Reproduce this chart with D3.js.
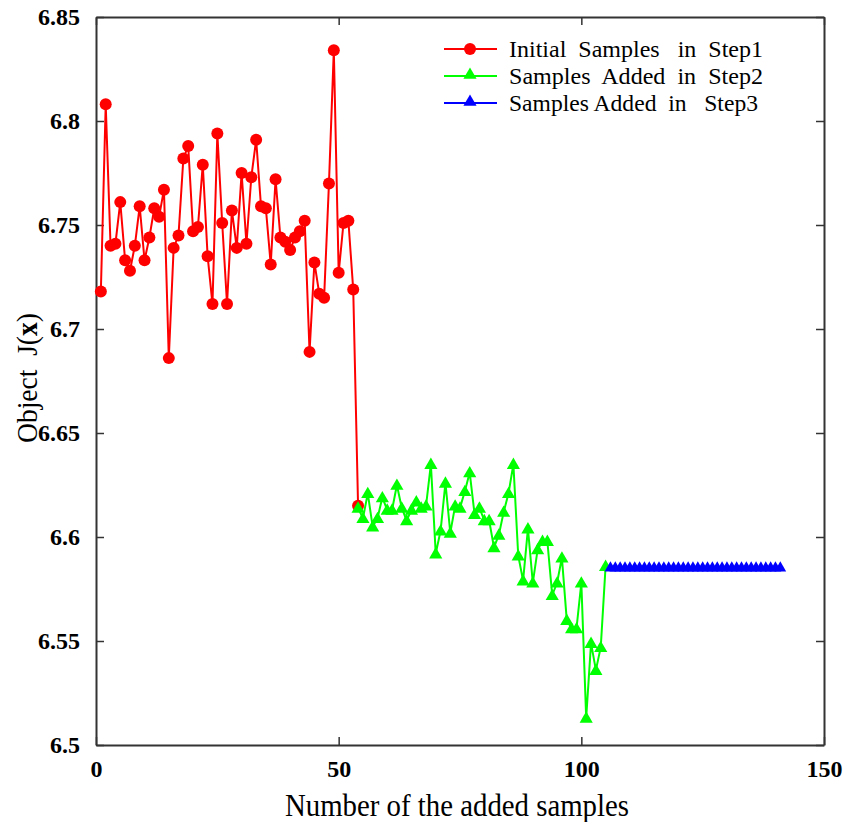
<!DOCTYPE html>
<html>
<head>
<meta charset="utf-8">
<script src="https://cdn.jsdelivr.net/npm/d3@7"></script>
<style>
  body { margin: 0; background: #fff; }
  text { font-family: "Liberation Serif", "Times New Roman", serif; }
</style>
</head>
<body>
<svg id="chart" width="844" height="822"></svg>
<script>
// data
var step1X = [1,2,3,4,5,6,7,8,9,10,11,12,13,14,15,16,17,18,19,20,21,22,23,24,25,26,27,
  28,29,30,31,32,33,34,35,36,37,38,39,40,41,42,43,44,45,46,47,48,49,50,51,52,53,54];
var step1Y = [6.718,6.808,6.740,6.741,6.761,6.733,6.728,6.740,6.759,6.733,6.744,6.758,6.754,6.767,
  6.686,6.739,6.745,6.782,6.788,6.747,6.749,6.779,6.735,6.712,6.794,6.751,6.712,6.757,6.739,6.775,
  6.741,6.773,6.791,6.759,6.758,6.731,6.772,6.744,6.742,6.738,6.744,6.747,6.752,6.689,6.732,6.717,
  6.715,6.770,6.834,6.727,6.751,6.752,6.719,6.615];

var step2X = [54,55,56,57,58,59,60,61,62,63,64,65,66,67,68,69,70,71,72,73,74,75,76,77,78,79,
  80,81,82,83,84,85,86,87,88,89,90,91,92,93,94,95,96,97,98,99,100,101,102,103,104,105];
var step2Y = [6.614,6.609,6.621,6.605,6.609,6.619,6.613,6.613,6.625,6.614,6.608,6.613,6.617,6.614,
  6.615,6.635,6.592,6.603,6.626,6.602,6.615,6.614,6.622,6.631,6.611,6.614,6.608,6.608,6.595,6.601,
  6.612,6.621,6.635,6.591,6.579,6.604,6.578,6.594,6.598,6.598,6.572,6.578,6.590,6.560,6.556,6.556,
  6.578,6.513,6.549,6.536,6.547,6.586];

var step3X = [106,107,108,109,110,111,112,113,114,115,116,117,118,119,120,121,122,123,
  124,125,126,127,128,129,130,131,132,133,134,135,136,137,138,139,140,141];
var step3Y = [6.5855,6.5855,6.5855,6.5855,6.5855,6.5855,6.5855,6.5855,6.5855,6.5855,6.5855,6.5855,
  6.5855,6.5855,6.5855,6.5855,6.5855,6.5855,6.5855,6.5855,6.5855,6.5855,6.5855,6.5855,6.5855,6.5855,
  6.5855,6.5855,6.5855,6.5855,6.5855,6.5855,6.5855,6.5855,6.5855,6.5855];

var xTicks = [0, 50, 100, 150];
var yTicks = [6.5, 6.55, 6.6, 6.65, 6.7, 6.75, 6.8, 6.85];
var legendLabels = ["Initial  Samples   in  Step1", "Samples  Added  in  Step2", "Samples Added  in   Step3"];

var svg = d3.select("#chart");
var plotLeft = 96, plotRight = 824, plotTop = 17, plotBottom = 745;

var x = d3.scaleLinear().domain([0, 150]).range([plotLeft, plotRight]);
var y = d3.scaleLinear().domain([6.5, 6.85]).range([plotBottom, plotTop]);

var frameColor = "#333";

//axes with ticks pointing inwards
function styleAxis(g) {
  g.select(".domain").attr("stroke", frameColor).attr("stroke-width", 2);
  g.selectAll(".tick line").attr("stroke", frameColor).attr("stroke-width", 1.5);
  g.selectAll(".tick text").attr("fill", "#000").attr("font-weight", "bold")
    .attr("font-size", 24).style("font-family", "'Liberation Serif', serif");
}

svg.append("g").attr("transform", "translate(0," + plotBottom + ")")
  .call(d3.axisBottom(x).tickValues(xTicks).tickSizeInner(-8).tickSizeOuter(0).tickPadding(15)
    .tickFormat(d3.format("d")))
  .call(styleAxis);

svg.append("g").attr("transform", "translate(" + plotLeft + ",0)")
  .call(d3.axisLeft(y).tickValues(yTicks).tickSizeInner(-8).tickSizeOuter(0).tickPadding(16)
    .tickFormat(function(d) { return String(+d.toFixed(2)); }))
  .call(styleAxis);

svg.append("g").attr("transform", "translate(0," + plotTop + ")")
  .call(d3.axisTop(x).tickValues(xTicks).tickSizeInner(-8).tickSizeOuter(0).tickFormat(""))
  .call(styleAxis);

svg.append("g").attr("transform", "translate(" + plotRight + ",0)")
  .call(d3.axisRight(y).tickValues(yTicks).tickSizeInner(-8).tickSizeOuter(0).tickFormat(""))
  .call(styleAxis);

// axis titles
svg.append("text")
  .attr("x", 285).attr("y", 816)
  .attr("font-size", 31)
  .attr("textLength", 344).attr("lengthAdjust", "spacingAndGlyphs")
  .text("Number of the added samples");

var yTitle = svg.append("text")
  .attr("transform", "translate(37,443) rotate(-90)")
  .attr("font-size", 29).style("white-space", "pre")
  .attr("textLength", 130).attr("lengthAdjust", "spacingAndGlyphs");
yTitle.append("tspan").text("Object  J(");
yTitle.append("tspan").attr("font-weight", "bold").text("x");
yTitle.append("tspan").text(")");

var line = d3.line().x(function(d) { return x(d[0]); }).y(function(d) { return y(d[1]); });
var tri = d3.symbol().type(d3.symbolTriangle);

function drawSeries(xs, ys, color, marker, size) {
  var pts = xs.map(function(v, i) { return [v, ys[i]]; });
  svg.append("path").datum(pts)
    .attr("fill", "none").attr("stroke", color).attr("stroke-width", 2)
    .attr("d", line);
  var g = svg.append("g");
  if (marker === "circle") {
    g.selectAll("circle").data(pts).enter().append("circle")
      .attr("cx", function(d) { return x(d[0]); })
      .attr("cy", function(d) { return y(d[1]); })
      .attr("r", size).attr("fill", color);
  } else {
    g.selectAll("path").data(pts).enter().append("path")
      .attr("d", tri.size(size))
      .attr("transform", function(d) { return "translate(" + x(d[0]) + "," + (y(d[1]) + 1) + ")"; })
      .attr("fill", color);
  }
}

drawSeries(step1X, step1Y, "#ff0000", "circle", 6);
drawSeries(step2X, step2Y, "#00ff00", "triangle", 75);
drawSeries(step3X, step3Y, "#0000ff", "triangle", 60);

// legend
var legendColors = ["#ff0000", "#00ff00", "#0000ff"];
var legendY = [49, 76, 103];
var legendWidths = [254, 254, 249];
legendLabels.forEach(function(label, i) {
  var ly = legendY[i];
  svg.append("line").attr("x1", 444).attr("x2", 497).attr("y1", ly).attr("y2", ly)
    .attr("stroke", legendColors[i]).attr("stroke-width", 2);
  if (i === 0) {
    svg.append("circle").attr("cx", 470).attr("cy", ly).attr("r", 6).attr("fill", legendColors[i]);
  } else {
    svg.append("path").attr("d", tri.size(75))
      .attr("transform", "translate(470," + (ly - 1) + ")").attr("fill", legendColors[i]);
  }
  svg.append("text").attr("x", 509).attr("y", ly + 8)
    .attr("font-size", 23).style("white-space", "pre")
    .attr("textLength", legendWidths[i]).attr("lengthAdjust", "spacingAndGlyphs")
    .text(label);
});
</script>
</body>
</html>
